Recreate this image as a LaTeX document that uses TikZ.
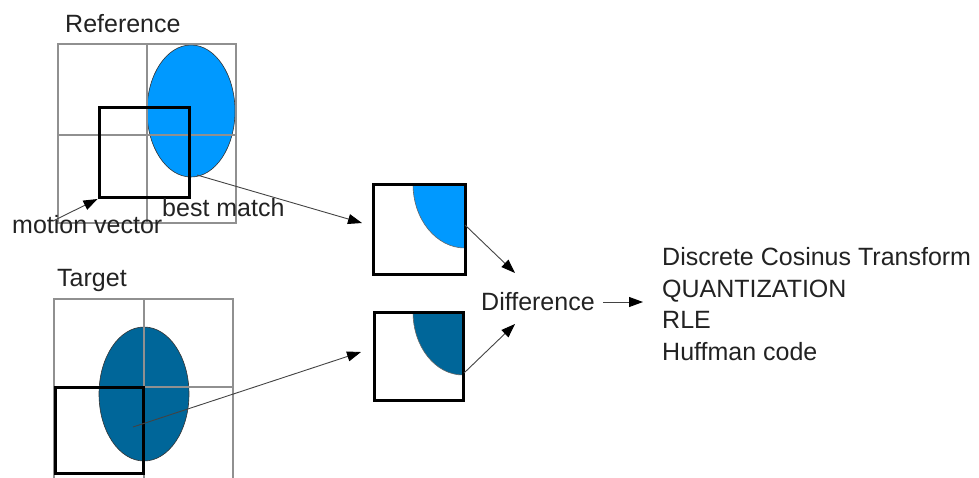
\documentclass[tikz,border=0pt]{standalone}
\usepackage{fontspec}
\setmainfont{Liberation Sans}
\usetikzlibrary{arrows.meta}
\definecolor{lblue}{HTML}{0099FF}
\definecolor{dblue}{HTML}{006699}
\definecolor{gridc}{HTML}{909090}
\definecolor{txtc}{HTML}{222222}
\begin{document}
\begin{tikzpicture}[x=1pt,y=-1pt,
  gridline/.style={draw=gridc,line width=1.4pt},
  blk/.style={draw=black,line width=3pt},
  conn/.style={draw=txtc!85,line width=0.9pt,-{Triangle[length=14pt,width=10pt,color=black]}},
  lbl/.style={inner sep=0pt,anchor=base west,text=txtc,font=\fontsize{25}{30}\selectfont},
  oval/.style={draw=black!80,line width=0.6pt}]
\useasboundingbox (0,0) rectangle (979,477);
% Reference frame
\node[lbl] (tref) at (65,32) {Reference};
\fill[lblue] (191,111) ellipse[x radius=44,y radius=66];
\draw[oval] (191,111) ellipse[x radius=44,y radius=66];
\draw[gridline] (58,44) rectangle (236,223);
\draw[gridline] (147,44) -- (147,223) (58,135) -- (236,135);
\node[blk,minimum size=90pt,inner sep=0pt] (rsq) at (144,152.5) {};
\coordinate (mvs) at (53,221);
\coordinate (bms) at (197,175);
% Target frame
\node[lbl] (ttar) at (57,286) {Target};
\fill[dblue] (144,394) ellipse[x radius=45,y radius=67];
\draw[oval] (144,394) ellipse[x radius=45,y radius=67];
\begin{scope}
\clip (0,0) rectangle (979,477);
\draw[gridline] (54,299) rectangle (233,482);
\draw[gridline] (144,299) -- (144,482) (54,387) -- (233,387);
\end{scope}
\node[blk,minimum width=88pt,minimum height=86pt,inner sep=0pt] (tsq) at (99,430) {};
\coordinate (tms) at (133,427);
% labels
\node[lbl] (mv) at (12,233) {motion vector};
\node[lbl] (bm) at (162,216) {best match};
% middle blocks
\begin{scope}
\clip (373,184) rectangle (465,274);
\fill[lblue] (465,184) ellipse[x radius=52,y radius=64];
\draw[oval,draw=black!60] (465,184) ellipse[x radius=52,y radius=64];
\end{scope}
\node[blk,minimum width=92pt,minimum height=90pt,inner sep=0pt] (ba) at (419,229) {};
\begin{scope}
\clip (374,312) rectangle (463,400);
\fill[dblue] (463,312) ellipse[x radius=50,y radius=63];
\draw[oval,draw=black!60] (463,312) ellipse[x radius=50,y radius=63];
\end{scope}
\node[blk,minimum width=89pt,minimum height=88pt,inner sep=0pt] (bb) at (418.5,356) {};
% Difference and list
\node[lbl] (diff) at (481,310) {Difference};
\node[lbl] (l1) at (662,265) {Discrete Cosinus Transform};
\node[lbl] (l2) at (662,297) {QUANTIZATION};
\node[lbl] (l3) at (662,328) {RLE};
\node[lbl] (l4) at (662,360) {Huffman code};
% connector points
\coordinate (bain) at (362,223);
\coordinate (bbin) at (361,352);
\coordinate (baout) at (465,225);
\coordinate (bbout) at (464,373);
\coordinate (dtop) at (515,273);
\coordinate (dbot) at (515,324);
\coordinate (dout) at (603,302);
\coordinate (lin) at (643,302);
% connectors
\draw[conn] (mvs) -- (rsq.south west);
\draw[conn] (bms) -- (bain);
\draw[conn] (tms) -- (bbin);
\draw[conn] (baout) -- (dtop);
\draw[conn] (bbout) -- (dbot);
\draw[conn] (dout) -- (lin);
\end{tikzpicture}
\end{document}
